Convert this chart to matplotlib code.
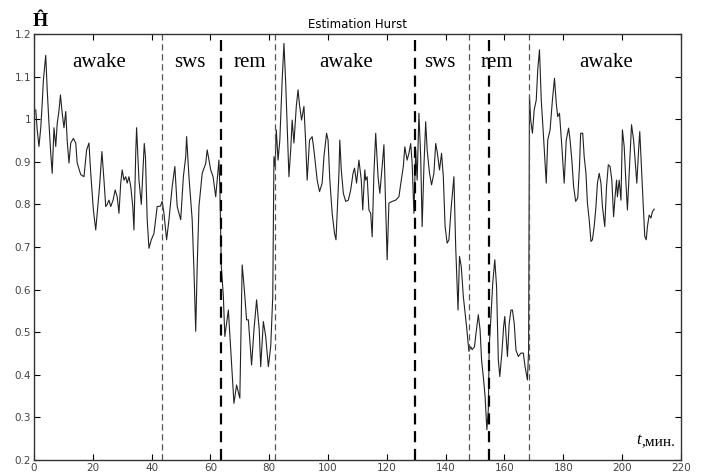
import numpy as np
from matplotlib import pyplot as plt

# time (minutes) and Hurst estimate
t_min = [0.6, 1.1, 1.7, 2.3, 2.8, 3.2, 4.0, 4.5, 5.1, 5.7, 6.2, 6.8, 7.4, 7.9, 8.5, 9.0,
         9.6, 10.2, 10.8, 11.3, 11.9, 12.5, 13.4, 14.2, 14.7, 15.9, 17.0, 17.9, 18.7,
         19.3, 20.2, 21.0, 21.5, 22.3, 23.1, 23.8, 24.4, 24.9, 25.5, 26.1, 26.9, 27.6,
         28.3, 28.9, 29.5, 30.0, 30.6, 31.2, 31.7, 32.3, 32.9, 33.6, 34.0, 34.6, 34.9,
         35.7, 36.5, 37.5, 37.9, 38.5, 39.1, 39.9, 40.8, 41.9, 43.0, 43.6, 44.2, 45.1,
         45.9, 47.0, 47.9, 48.7, 49.9, 50.8, 51.6, 51.9, 52.7, 53.8, 54.4, 55.0, 55.5,
         56.1, 57.2, 58.4, 58.9, 60.1, 60.9, 61.8, 62.3, 62.9, 63.2, 63.7, 64.4, 64.9,
         66.1, 67.2, 68.0, 68.9, 70.0, 70.8, 71.5, 72.3, 72.9, 74.0, 74.8, 75.7, 76.6,
         77.1, 78.0, 78.8, 79.7, 80.5, 81.2, 81.6, 82.0, 82.4, 83.0, 83.6, 84.4, 85.0,
         85.6, 86.1, 86.7, 87.3, 87.8, 88.4, 89.2, 89.8, 90.3, 91.0, 91.8, 92.4, 92.9,
         93.7, 94.6, 95.2, 96.3, 97.1, 98.0, 98.6, 99.5, 100.0, 100.6, 101.4, 102.2,
         102.7, 103.1, 103.7, 104.0, 104.5, 105.2, 106.0, 106.9, 107.7, 108.5, 109.0,
         109.7, 110.5, 111.3, 111.8, 112.5, 112.8, 113.3, 113.9, 114.5, 115.0, 115.6,
         116.2, 117.0, 117.6, 118.4, 119.0, 119.6, 120.1, 120.7, 121.8, 123.0, 124.1,
         124.9, 125.6, 126.1, 126.9, 127.5, 128.1, 128.6, 129.2, 129.8, 130.3, 130.9,
         131.5, 132.0, 132.6, 133.2, 133.7, 134.5, 135.2, 136.0, 136.6, 137.1, 137.9,
         138.6, 139.2, 139.8, 140.5, 141.1, 141.9, 142.8, 143.4, 144.2, 144.7, 145.3,
         146.0, 146.6, 147.1, 147.9, 148.5, 149.0, 149.8, 150.3, 151.1, 151.7, 152.2,
         152.9, 153.4, 154.0, 154.5, 154.8, 155.4, 156.0, 156.7, 157.3, 157.9, 158.4,
         159.1, 159.7, 160.1, 161.0, 161.6, 162.2, 162.7, 163.3, 163.9, 164.7, 165.6,
         166.4, 167.0, 167.8, 168.2, 168.5, 168.9, 169.5, 170.1, 170.8, 171.3, 171.9,
         172.5, 173.2, 174.2, 174.7, 175.5, 176.3, 177.0, 177.6, 178.1, 178.7, 179.5,
         180.3, 181.0, 181.8, 182.3, 182.9, 183.5, 184.2, 184.9, 185.5, 185.9, 186.6,
         187.1, 187.7, 188.2, 188.8, 189.4, 189.9, 190.5, 191.1, 191.6, 192.2, 192.8,
         193.3, 194.1, 194.7, 195.3, 195.9, 196.5, 197.1, 197.6, 198.1, 198.4, 199.0,
         199.6, 200.1, 200.7, 201.3, 201.8, 202.4, 203.2, 203.9, 204.4, 205.0, 205.6,
         206.0, 206.6, 207.2, 207.7, 208.2, 208.6, 209.2, 209.8, 210.3, 210.9]
hurst = [1.022, 0.975, 0.936, 0.98, 1.037, 1.092, 1.15, 1.069, 0.99, 0.92, 0.873, 0.98,
         0.936, 0.99, 1.02, 1.057, 1.014, 0.98, 1.018, 0.95, 0.897, 0.944, 0.955, 0.944,
         0.897, 0.87, 0.865, 0.928, 0.944, 0.873, 0.787, 0.74, 0.779, 0.842, 0.924,
         0.857, 0.795, 0.8, 0.81, 0.795, 0.81, 0.834, 0.818, 0.779, 0.85, 0.881, 0.857,
         0.865, 0.85, 0.865, 0.842, 0.795, 0.74, 0.92, 0.98, 0.857, 0.8, 0.943, 0.912,
         0.764, 0.697, 0.717, 0.732, 0.795, 0.796, 0.807, 0.779, 0.717, 0.764, 0.842,
         0.889, 0.795, 0.764, 0.865, 0.912, 0.959, 0.865, 0.764, 0.646, 0.502, 0.654,
         0.795, 0.873, 0.896, 0.928, 0.881, 0.865, 0.818, 0.857, 0.904, 0.842, 0.654,
         0.584, 0.49, 0.552, 0.427, 0.333, 0.376, 0.345, 0.658, 0.603, 0.529, 0.529,
         0.423, 0.505, 0.576, 0.505, 0.419, 0.525, 0.49, 0.419, 0.466, 0.584, 0.912,
         0.889, 0.975, 0.904, 0.951, 1.092, 1.178, 1.084, 0.983, 0.865, 0.928, 0.998,
         0.944, 1.03, 1.069, 1.033, 0.998, 1.03, 0.944, 0.857, 0.951, 0.959, 0.928,
         0.857, 0.83, 0.85, 0.912, 0.967, 0.951, 0.857, 0.779, 0.732, 0.717, 0.779,
         0.873, 0.951, 0.881, 0.826, 0.807, 0.81, 0.834, 0.873, 0.885, 0.85, 0.904,
         0.857, 0.787, 0.881, 0.857, 0.865, 0.787, 0.779, 0.724, 0.873, 0.967, 0.865,
         0.826, 0.889, 0.94, 0.795, 0.67, 0.803, 0.807, 0.81, 0.818, 0.857, 0.889,
         0.935, 0.904, 0.92, 0.943, 0.896, 0.779, 0.928, 0.857, 1.014, 0.912, 0.748,
         0.889, 0.994, 0.928, 0.873, 0.846, 0.873, 0.943, 0.924, 0.881, 0.92, 0.865,
         0.748, 0.709, 0.717, 0.795, 0.865, 0.701, 0.552, 0.678, 0.654, 0.584, 0.545,
         0.513, 0.455, 0.466, 0.459, 0.466, 0.497, 0.541, 0.505, 0.435, 0.388, 0.349,
         0.271, 0.318, 0.466, 0.537, 0.615, 0.67, 0.607, 0.435, 0.396, 0.451, 0.513,
         0.537, 0.443, 0.521, 0.552, 0.552, 0.521, 0.458, 0.443, 0.451, 0.451, 0.419,
         0.388, 0.458, 1.053, 0.998, 0.967, 1.022, 1.045, 1.116, 1.163, 1.045, 0.967,
         0.85, 0.951, 0.975, 1.045, 1.096, 1.037, 1.006, 1.014, 0.936, 0.85, 0.951,
         0.979, 0.951, 0.904, 0.842, 0.807, 0.815, 0.889, 0.967, 0.967, 0.912, 0.873,
         0.803, 0.764, 0.713, 0.717, 0.748, 0.795, 0.85, 0.873, 0.85, 0.795, 0.748,
         0.842, 0.893, 0.889, 0.857, 0.771, 0.818, 0.857, 0.818, 0.857, 0.81, 0.975,
         0.936, 0.85, 0.787, 0.873, 0.987, 0.951, 0.904, 0.85, 0.928, 0.971, 0.881,
         0.795, 0.725, 0.717, 0.748, 0.775, 0.768, 0.783, 0.789]

# sleep stage boundaries
light_bounds = [43.6, 82.0, 148.0, 168.5]
bold_bounds = [63.7, 129.6, 154.6]

stage_names = ["awake", "sws", "rem", "awake", "sws", "rem", "awake"]
stage_pos = [22, 53, 73.5, 106, 138, 157.5, 194.5]


def main():
    fig = plt.figure(figsize=(7.02, 4.75), dpi=100)
    ax = fig.add_axes([0.0484, 0.0316, 0.9216, 0.8968])

    ax.plot(t_min, hurst, color="#222222", lw=0.8)

    for xb in light_bounds:
        ax.axvline(xb, color="#555555", lw=0.9, ls=(0, (5, 3)))
    for xb in bold_bounds:
        ax.axvline(xb, color="black", lw=1.6, ls=(0, (5, 3)))

    for name, xp in zip(stage_names, stage_pos):
        ax.text(xp, 1.133, name, ha="center", va="center",
                family="Liberation Serif", fontsize=15)

    ax.set_xlim(0, 220)
    ax.set_ylim(0.2, 1.2)
    ax.set_xticks(np.arange(0, 221, 20))
    ax.set_yticks(np.arange(0.2, 1.21, 0.1))
    ax.set_yticklabels(["0.2", "0.3", "0.4", "0.5", "0.6", "0.7",
                        "0.8", "0.9", "1", "1.1", "1.2"])
    ax.tick_params(direction="in", top=True, right=True, length=4,
                   labelsize=7.5, labelcolor="#444444", pad=2)
    for sp in ax.spines.values():
        sp.set_color("#333333")
        sp.set_linewidth(1.0)

    ax.set_title("Estimation Hurst", fontsize=8.5, pad=4)
    fig.text(0.057, 0.955, "Ĥ", family="Liberation Serif", fontsize=14,
             fontweight="bold", ha="center", va="center")

    # axis unit label, bottom right inside the axes
    unit = ax.text(218, 0.228, ",мин.", family="Liberation Serif", fontsize=11,
                   ha="right", va="bottom")
    ax.annotate("t", xy=(0, 0), xycoords=unit, ha="right", va="bottom",
                family="Liberation Serif", fontsize=12, style="italic")

    fig.savefig("out.png", dpi=100)
    plt.close(fig)


if __name__ == "__main__":
    main()
